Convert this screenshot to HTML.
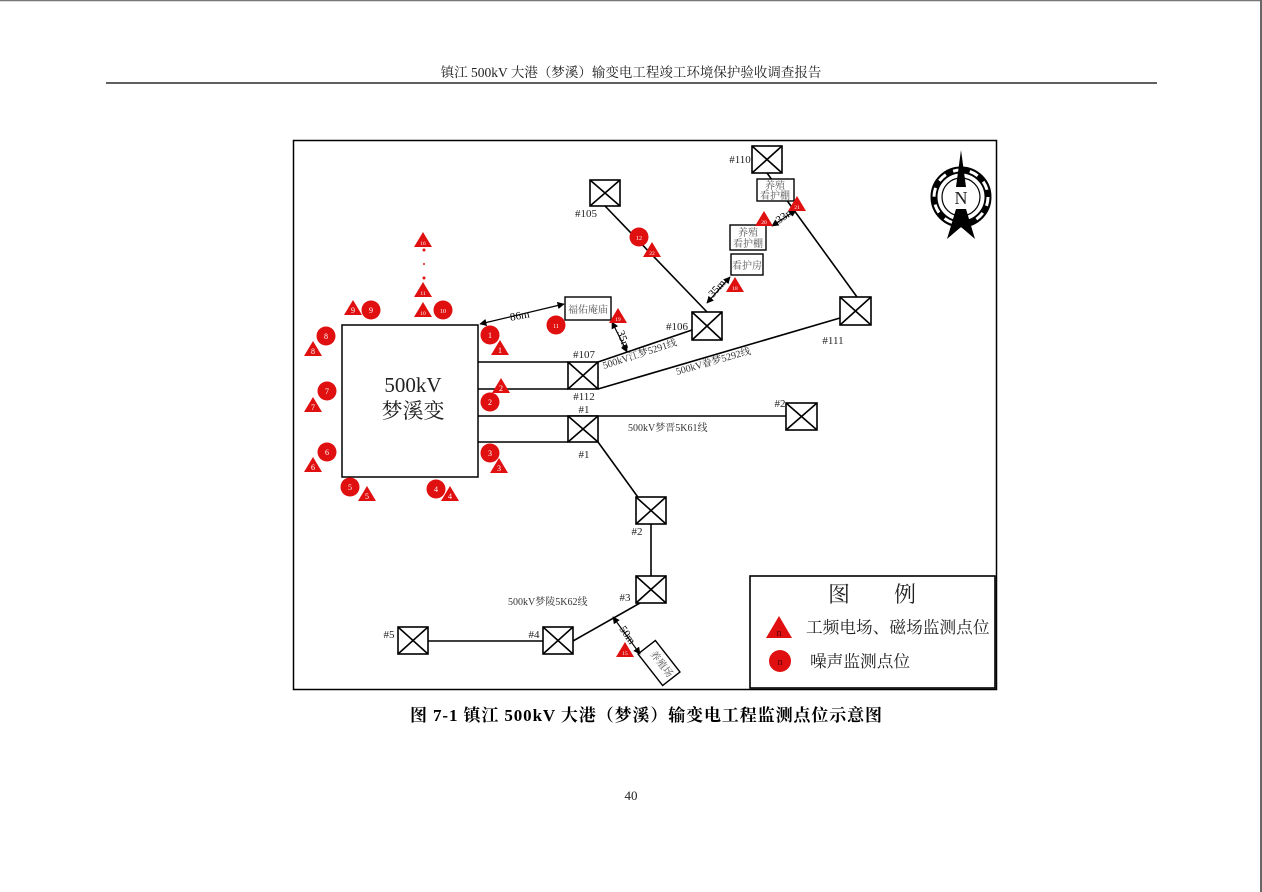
<!DOCTYPE html>
<html><head><meta charset="utf-8"><style>
html,body{margin:0;padding:0;background:#fff;}
svg{display:block;}
text{font-family:"Liberation Serif","Noto Serif CJK SC","Noto Sans CJK SC",serif;}
</style></head><body>
<svg width="1262" height="892" viewBox="0 0 1262 892" xmlns="http://www.w3.org/2000/svg">
<defs>
<marker id="ar" viewBox="0 0 10 10" refX="9" refY="5" markerWidth="6" markerHeight="6" orient="auto-start-reverse"><path d="M0,0 L10,5 L0,10 z" fill="#000"/></marker>
</defs>
<rect width="1262" height="892" fill="#fff"/>
<line x1="0" y1="0.5" x2="1262" y2="0.5" stroke="#777" stroke-width="1.5"/>
<line x1="1261" y1="0" x2="1261" y2="892" stroke="#666" stroke-width="2"/>
<text x="631" y="77" font-size="13.5" text-anchor="middle" fill="#222">镇江 500kV 大港（梦溪）输变电工程竣工环境保护验收调查报告</text>
<line x1="106" y1="83" x2="1157" y2="83" stroke="#000" stroke-width="1.3"/>

<rect x="293.5" y="140.5" width="703" height="549" fill="none" stroke="#000" stroke-width="1.5"/>

<rect x="342" y="325" width="136" height="152" fill="#fff" stroke="#000" stroke-width="1.5"/>
<text x="413" y="392" font-size="21" text-anchor="middle" fill="#222">500kV</text>
<text x="413" y="418" font-size="21" text-anchor="middle" fill="#222">梦溪变</text>

<g stroke="#000" stroke-width="1.6" fill="none">
<line x1="478" y1="362" x2="568" y2="362"/>
<line x1="478" y1="389" x2="568" y2="389"/>
<line x1="478" y1="416" x2="786" y2="416"/>
<line x1="478" y1="442" x2="568" y2="442"/>
<line x1="598" y1="362" x2="692" y2="330"/>
<line x1="598" y1="389" x2="840" y2="318"/>
<line x1="598" y1="442" x2="640" y2="500"/>
<line x1="651" y1="524" x2="651" y2="576"/>
<line x1="640" y1="603" x2="573" y2="641"/>
<line x1="428" y1="641" x2="543" y2="641"/>
<line x1="605" y1="206" x2="707" y2="312"/>
<line x1="767" y1="173" x2="857" y2="297"/>
</g>

<g stroke="#000" stroke-width="1.6" fill="#fff">
<g transform="translate(568,362)"><rect width="30" height="27"/><path d="M0,0L30,27M30,0L0,27"/></g>
<g transform="translate(568,416)"><rect width="30" height="26"/><path d="M0,0L30,26M30,0L0,26"/></g>
<g transform="translate(786,403)"><rect width="31" height="27"/><path d="M0,0L31,27M31,0L0,27"/></g>
<g transform="translate(636,497)"><rect width="30" height="27"/><path d="M0,0L30,27M30,0L0,27"/></g>
<g transform="translate(636,576)"><rect width="30" height="27"/><path d="M0,0L30,27M30,0L0,27"/></g>
<g transform="translate(543,627)"><rect width="30" height="27"/><path d="M0,0L30,27M30,0L0,27"/></g>
<g transform="translate(398,627)"><rect width="30" height="27"/><path d="M0,0L30,27M30,0L0,27"/></g>
<g transform="translate(590,180)"><rect width="30" height="26"/><path d="M0,0L30,26M30,0L0,26"/></g>
<g transform="translate(692,312)"><rect width="30" height="28"/><path d="M0,0L30,28M30,0L0,28"/></g>
<g transform="translate(752,146)"><rect width="30" height="27"/><path d="M0,0L30,27M30,0L0,27"/></g>
<g transform="translate(840,297)"><rect width="31" height="28"/><path d="M0,0L31,28M31,0L0,28"/></g>
</g>

<g font-size="11" fill="#222" text-anchor="middle">
<text x="584" y="358">#107</text>
<text x="584" y="400">#112</text>
<text x="584" y="413">#1</text>
<text x="584" y="458">#1</text>
<text x="780" y="407">#2</text>
<text x="637" y="535">#2</text>
<text x="625" y="601">#3</text>
<text x="534" y="638">#4</text>
<text x="389" y="638">#5</text>
<text x="586" y="217">#105</text>
<text x="677" y="330">#106</text>
<text x="740" y="163">#110</text>
<text x="833" y="344">#111</text>
</g>

<g font-size="10" fill="#333">
<text x="628" y="431">500kV梦晋5K61线</text>
<text x="508" y="605">500kV梦陵5K62线</text>
<text transform="translate(604,369) rotate(-18)">500kV江梦5291线</text>
<text transform="translate(677,375) rotate(-16)">500kV眷梦5292线</text>
</g>

<g stroke="#000" stroke-width="1.4" fill="#fff">
<rect x="565" y="297" width="46" height="23"/>
<rect x="757" y="179" width="37" height="22"/>
<rect x="730" y="225" width="36" height="25"/>
<rect x="731" y="254" width="32" height="21"/>
<rect x="-20" y="-11" width="40" height="22" transform="translate(659,663) rotate(52)"/>
</g>
<g font-size="10" fill="#555" text-anchor="middle">
<text x="588" y="313">福佑庵庙</text>
<text x="775" y="189">养殖</text>
<text x="775" y="199">看护棚</text>
<text x="748" y="236">养殖</text>
<text x="748" y="247">看护棚</text>
<text x="747" y="269">看护房</text>
<text transform="translate(659,666) rotate(52)">养殖场</text>
</g>

<g stroke="#000" stroke-width="1.2" marker-start="url(#ar)" marker-end="url(#ar)">
<line x1="480" y1="324" x2="564" y2="304"/>
<line x1="612" y1="322" x2="627" y2="352"/>
<line x1="707" y1="303" x2="730" y2="277"/>
<line x1="772" y1="226" x2="796" y2="210"/>
<line x1="613" y1="617" x2="640" y2="654"/>
</g>
<g font-size="11" fill="#000">
<text x="510" y="319" transform="rotate(-10 520 316)">86m</text>
<text transform="translate(617,332) rotate(70)">35m</text>
<text transform="translate(713,298) rotate(-48)">35m</text>
<text transform="translate(779,224) rotate(-35)">33m</text>
<text transform="translate(619,629) rotate(55)">50m</text>
</g>

<g fill="#e01010">
<circle cx="490" cy="335" r="9.5"/><circle cx="490" cy="402" r="9.5"/><circle cx="490" cy="453" r="9.5"/>
<circle cx="436" cy="489" r="9.5"/><circle cx="350" cy="487" r="9.5"/><circle cx="327" cy="452" r="9.5"/>
<circle cx="327" cy="391" r="9.5"/><circle cx="326" cy="336" r="9.5"/><circle cx="371" cy="310" r="9.5"/>
<circle cx="443" cy="310" r="9.5"/><circle cx="556" cy="325" r="9.5"/><circle cx="639" cy="237" r="9.5"/>
<circle cx="424" cy="250" r="1.5"/><circle cx="424" cy="264" r="1"/><circle cx="424" cy="278" r="1.5"/>
</g>
<g fill="#e01010">
<path d="M500,340 l9,15 h-18z"/><path d="M501,378 l9,15 h-18z"/><path d="M499,458 l9,15 h-18z"/>
<path d="M450,486 l9,15 h-18z"/><path d="M367,486 l9,15 h-18z"/><path d="M313,457 l9,15 h-18z"/>
<path d="M313,397 l9,15 h-18z"/><path d="M313,341 l9,15 h-18z"/><path d="M353,300 l9,15 h-18z"/>
<path d="M423,302 l9,15 h-18z"/><path d="M423,282 l9,15 h-18z"/><path d="M423,232 l9,15 h-18z"/>
<path d="M618,308 l9,15 h-18z"/><path d="M652,242 l9,15 h-18z"/><path d="M735,277 l9,15 h-18z"/>
<path d="M764,211 l9,15 h-18z"/><path d="M797,196 l9,15 h-18z"/><path d="M625,642 l9,15 h-18z"/>
</g>
<g font-size="8" fill="#fff" text-anchor="middle">
<text x="490" y="338">1</text><text x="490" y="405">2</text><text x="490" y="456">3</text>
<text x="436" y="492">4</text><text x="350" y="490">5</text><text x="327" y="455">6</text>
<text x="327" y="394">7</text><text x="326" y="339">8</text><text x="371" y="313">9</text>
<text x="443" y="313" font-size="6">10</text><text x="556" y="328" font-size="6">11</text><text x="639" y="240" font-size="6">12</text>
<text x="500" y="353">1</text><text x="501" y="391">2</text><text x="499" y="471">3</text>
<text x="450" y="499">4</text><text x="367" y="499">5</text><text x="313" y="470">6</text>
<text x="313" y="410">7</text><text x="313" y="354">8</text><text x="353" y="313">9</text>
<g font-size="5.5"><text x="423" y="315">10</text><text x="423" y="295">11</text><text x="423" y="245">16</text>
<text x="618" y="321">19</text><text x="652" y="255">22</text><text x="735" y="290">18</text>
<text x="764" y="224">20</text><text x="797" y="209">21</text><text x="625" y="655">15</text></g>
</g>

<g transform="translate(961,197)">
<circle r="27" fill="none" stroke="#000" stroke-width="7"/>
<circle r="27" fill="none" stroke="#fff" stroke-width="3" stroke-dasharray="9 8"/>
<circle r="19" fill="#fff" stroke="#000" stroke-width="1.2"/>
<path d="M0,-47 L5,-10 L-5,-10z" fill="#000"/>
<path d="M-5,12 L5,12 L14,42 L0,30 L-14,42z" fill="#000"/>
<text x="0" y="7" font-size="18" text-anchor="middle" fill="#222">N</text>
</g>

<rect x="750" y="576" width="245" height="112" fill="#fff" stroke="#000" stroke-width="1.6"/>
<text x="872" y="602" font-size="22" text-anchor="middle" fill="#222">图　　例</text>
<path d="M779,616 l13,22 h-26z" fill="#e01010"/>
<text x="779" y="636" font-size="10" fill="#500" text-anchor="middle">n</text>
<text x="806" y="633" font-size="16.7" fill="#222">工频电场、磁场监测点位</text>
<circle cx="780" cy="661" r="11" fill="#e01010"/>
<text x="780" y="665" font-size="10" fill="#500" text-anchor="middle">n</text>
<text x="810" y="667" font-size="16.7" fill="#222">噪声监测点位</text>

<text x="646" y="721" font-size="17" font-weight="bold" text-anchor="middle" fill="#000" textLength="472" lengthAdjust="spacing">图 7-1  镇江 500kV 大港（梦溪）输变电工程监测点位示意图</text>
<text x="631" y="800" font-size="13" text-anchor="middle" fill="#222">40</text>
</svg>
</body></html>
